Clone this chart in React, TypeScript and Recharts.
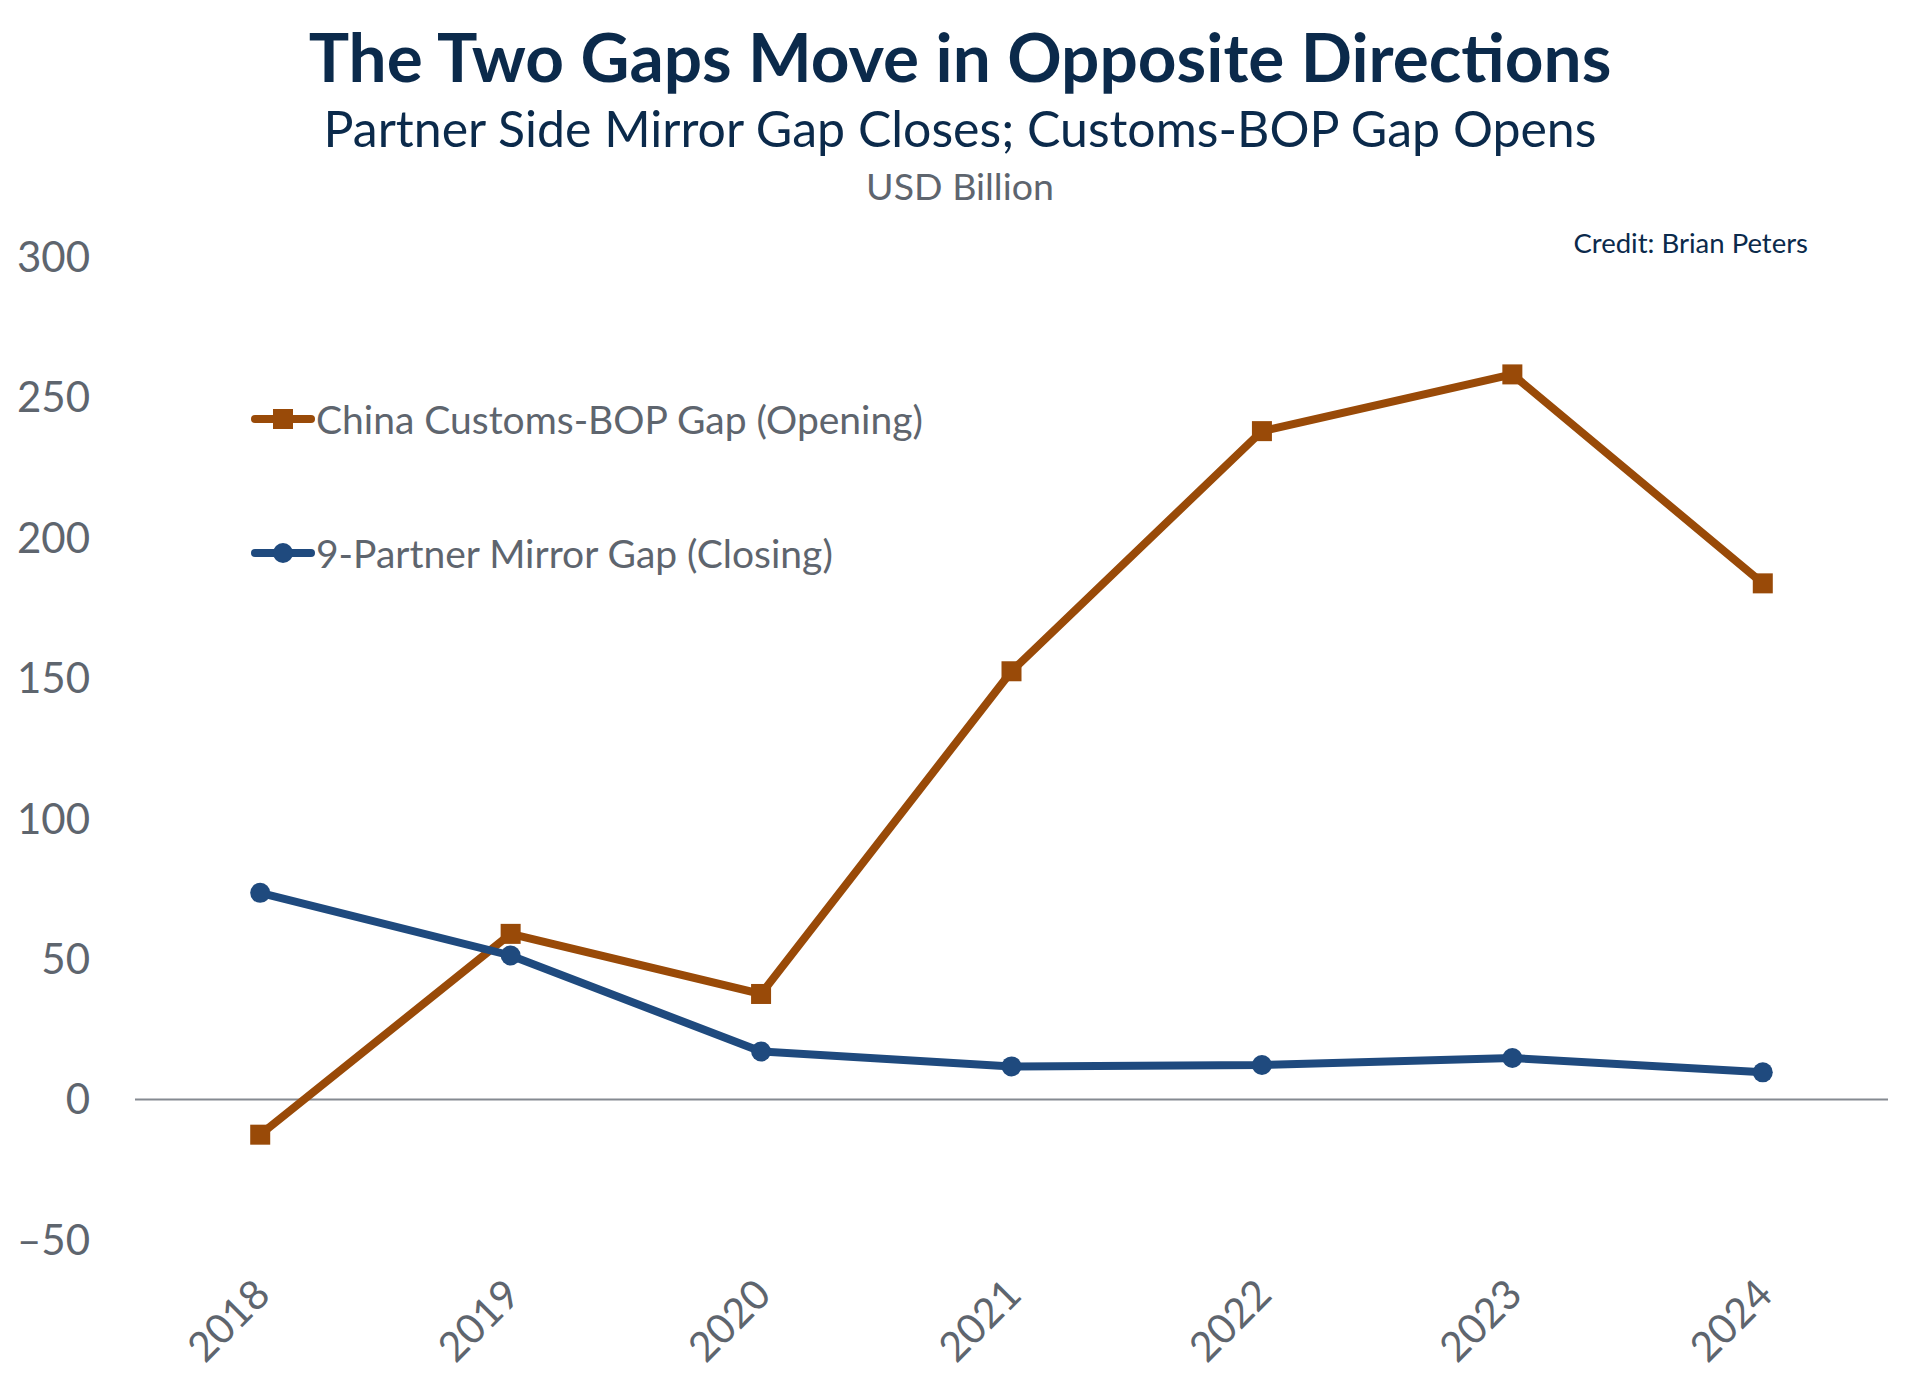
import React from "react";
import { LineChart, Line, XAxis, YAxis, ReferenceLine } from "recharts";

const years = ["2018", "2019", "2020", "2021", "2022", "2023", "2024"];
const customsBopGap = [-12.5, 59, 37.6, 152.5, 238, 258.2, 183.8];
const mirrorGap = [73.6, 51.3, 17.1, 11.8, 12.3, 14.8, 9.7];
const yTicks = [-50, 0, 50, 100, 150, 200, 250, 300];

const ORANGE = "#994A08";
const BLUE = "#1F4A7E";
const NAVY = "#0B2A4B";
const GREY = "#5E656E";
const FONT = "Lato, 'Open Sans', sans-serif";

const data = years.map((year, i) => ({
  year,
  customs: customsBopGap[i],
  mirror: mirrorGap[i],
}));

const SquareDot = (props: any) => {
  const { cx, cy } = props;
  if (cx == null || cy == null) return null;
  return <rect x={cx - 10} y={cy - 10} width={20} height={20} fill={ORANGE} />;
};

const RoundDot = (props: any) => {
  const { cx, cy } = props;
  if (cx == null || cy == null) return null;
  return <circle cx={cx} cy={cy} r={10} fill={BLUE} />;
};

const YearTick = (props: any) => {
  const { x, y, payload } = props;
  const tx = x + 12;
  const ty = y + 57;
  return (
    <text
      x={tx}
      y={ty}
      transform={`rotate(-45 ${tx} ${ty})`}
      textAnchor="end"
      fill={GREY}
      fontSize={41}
      fontFamily={FONT}
    >
      {payload.value}
    </text>
  );
};

const legendItems = [
  { label: "China Customs-BOP Gap (Opening)", color: ORANGE, shape: "square" },
  { label: "9-Partner Mirror Gap (Closing)", color: BLUE, shape: "circle" },
];

// legend drawn as an overlay so it does not eat into the plot area
const LegendBox = () => (
  <div
    style={{
      position: "absolute",
      left: 251,
      top: 352,
      pointerEvents: "none",
    }}
  >
    {legendItems.map((item) => (
      <div
        key={item.label}
        style={{ display: "flex", alignItems: "center", height: 134 }}
      >
        <svg width={64} height={24}>
          <line
            x1={4}
            y1={12}
            x2={60}
            y2={12}
            stroke={item.color}
            strokeWidth={8}
            strokeLinecap="round"
          />
          {item.shape === "square" ? (
            <rect x={22} y={2} width={20} height={20} fill={item.color} />
          ) : (
            <circle cx={32} cy={12} r={10} fill={item.color} />
          )}
        </svg>
        <span
          style={{
            fontFamily: FONT,
            fontSize: 39,
            color: GREY,
            marginLeft: 1,
            whiteSpace: "nowrap",
          }}
        >
          {item.label}
        </span>
      </div>
    ))}
  </div>
);

export default function App() {
  return (
    <div
      style={{
        position: "absolute",
        left: 0,
        top: 0,
        width: 1920,
        height: 1393,
        background: "#fff",
      }}
    >
      <LineChart
        width={1920}
        height={1393}
        data={data}
        margin={{ top: 257, right: 32, bottom: 0, left: 0 }}
      >
        <XAxis
          dataKey="year"
          scale="band"
          axisLine={false}
          tickLine={false}
          tickSize={0}
          tickMargin={0}
          height={153}
          interval={0}
          tick={<YearTick />}
        />
        <YAxis
          domain={[-50, 300]}
          ticks={yTicks}
          axisLine={false}
          tickLine={false}
          tickSize={0}
          tickMargin={45}
          width={135}
          tickFormatter={(v: number) => (v < 0 ? `\u2013${Math.abs(v)}` : `${v}`)}
          tick={{ fill: GREY, fontSize: 42, fontFamily: FONT }}
        />
        <ReferenceLine y={0} stroke="#858A91" strokeWidth={2} />
        <Line
          type="linear"
          dataKey="customs"
          name="China Customs-BOP Gap (Opening)"
          stroke={ORANGE}
          strokeWidth={8}
          dot={<SquareDot />}
          activeDot={false}
          isAnimationActive={false}
        />
        <Line
          type="linear"
          dataKey="mirror"
          name="9-Partner Mirror Gap (Closing)"
          stroke={BLUE}
          strokeWidth={8}
          dot={<RoundDot />}
          activeDot={false}
          isAnimationActive={false}
        />
      </LineChart>
      <LegendBox />
      <svg
        width={1920}
        height={300}
        style={{ position: "absolute", left: 0, top: 0, pointerEvents: "none" }}
      >
        <text
          x={960}
          y={82}
          textAnchor="middle"
          fill={NAVY}
          fontFamily={FONT}
          fontWeight={700}
          fontSize={67.5}
        >
          The Two Gaps Move in Opposite Directions
        </text>
        <text
          x={960}
          y={147}
          textAnchor="middle"
          fill={NAVY}
          fontFamily={FONT}
          fontSize={50}
        >
          Partner Side Mirror Gap Closes; Customs-BOP Gap Opens
        </text>
        <text
          x={960}
          y={200}
          textAnchor="middle"
          fill={GREY}
          fontFamily={FONT}
          fontSize={37.5}
        >
          USD Billion
        </text>
        <text
          x={1808}
          y={253}
          textAnchor="end"
          fill={NAVY}
          fontFamily={FONT}
          fontSize={27.5}
        >
          Credit: Brian Peters
        </text>
      </svg>
    </div>
  );
}
